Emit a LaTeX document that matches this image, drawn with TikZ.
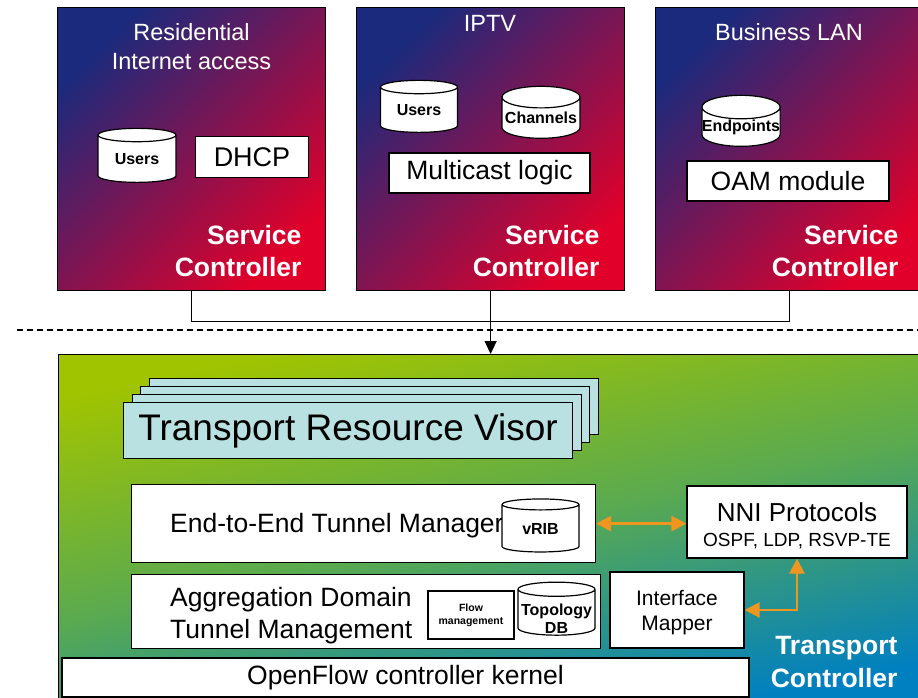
\documentclass[tikz,border=0pt]{standalone}
\usepackage{fontspec}
\setmainfont{Liberation Sans}
\usetikzlibrary{shapes.geometric, arrows.meta}
\definecolor{navy}{HTML}{1B2A7C}
\definecolor{crimson}{HTML}{E0002A}
\definecolor{lime}{HTML}{A0C400}
\definecolor{leaf}{HTML}{5AAA50}
\definecolor{ocean}{HTML}{0080C0}
\definecolor{visor}{HTML}{B9E1E1}
\definecolor{amber}{HTML}{F0961E}
\tikzstyle{service} = [rectangle, draw=black, line width=1.2pt, minimum width=268pt, minimum height=283pt, anchor=north west, top color=navy, bottom color=crimson, shading angle=45]
\tikzstyle{transport} = [rectangle, draw=black, line width=1.2pt, minimum width=870pt, minimum height=350pt, anchor=north west, top color=lime, bottom color=ocean, middle color=leaf, shading angle=12]
\tikzstyle{box} = [rectangle, draw=black, line width=1.2pt, fill=white, inner sep=0pt, align=center]
\tikzstyle{visorbox} = [rectangle, draw=black, line width=1.2pt, fill=visor, anchor=north west, minimum width=449pt, minimum height=56pt]
\tikzstyle{db} = [cylinder, shape border rotate=90, aspect=0.3, draw=black, line width=1.2pt, fill=white, inner sep=0pt, align=center, font=\bfseries\fontsize{16}{18}\selectfont]
\tikzstyle{title} = [text=white, font=\fontsize{23.5}{29}\selectfont, align=center]
\tikzstyle{ctrllabel} = [text=white, font=\bfseries\fontsize{26.5}{32.5}\selectfont, align=right, anchor=east]
\tikzstyle{arrow} = [line width=1.2pt, -{Triangle[width=12pt,length=13pt]}]
\tikzstyle{link} = [line width=2.5pt, draw=amber, {Triangle[width=15pt,length=15pt]}-{Triangle[width=15pt,length=15pt]}]

\begin{document}
\begin{tikzpicture}[x=1pt, y=-1pt]
  \useasboundingbox (0,0) rectangle (918,698);

  % service controllers
  \node (sc1) [service] at (57,7) {};
  \node (sc2) [service] at (356,7) {};
  \node (sc3) [service] at (655,7) {};

  \node (t1) [title] at (191.5,47) {Residential\\Internet access};
  \node (t2) [title] at (490,23) {IPTV};
  \node (t3) [title] at (789,32) {Business LAN};
  \node (c1) [ctrllabel] at (305,251) {Service\\Controller};
  \node (c2) [ctrllabel] at (603,251) {Service\\Controller};
  \node (c3) [ctrllabel] at (902,251) {Service\\Controller};

  \node (users1) [db, minimum width=78pt, minimum height=54pt] at (137,159) {Users};
  \node (dhcp) [box, minimum width=113pt, minimum height=41pt, font=\fontsize{27}{30}\selectfont] at (252,157) {DHCP};
  \node (users2) [db, minimum width=77pt, minimum height=52pt] at (419,110) {Users};
  \node (channels) [db, minimum width=78pt, minimum height=52pt] at (541,118) {Channels};
  \node (mcast) [box, minimum width=201pt, minimum height=40pt, font=\fontsize{26.5}{30}\selectfont] at (489.5,173) {Multicast logic};
  \node (endpoints) [db, minimum width=77pt, minimum height=51pt] at (741,127) {Endpoints};
  \node (oam) [box, minimum width=202pt, minimum height=40pt, font=\fontsize{26.5}{30}\selectfont] at (788,181) {OAM module};

  % transport controller
  \node (tc) [transport] at (58,354) {};
  \node (c4) [ctrllabel] at (901,662) {Transport\\Controller};

  \foreach \i in {3,2,1}
    \node [visorbox] at ({123+8.5*\i},{402-8*\i}) {};
  \node (trv) [visorbox, font=\fontsize{37}{42}\selectfont] at (123,402) {Transport Resource Visor};

  \node (e2e) [box, anchor=north west, minimum width=464pt, minimum height=78pt] at (131,484) {};
  \node (e2etext) [anchor=west, inner sep=0pt, font=\fontsize{26.5}{30}\selectfont] at ([xshift=39pt, yshift=-2pt]e2e.west) {End-to-End Tunnel Manager};
  \node (vrib) [db, minimum width=77pt, minimum height=53pt] at (540.5,528.5) {vRIB};

  \node (nni) [box, minimum width=220pt, minimum height=72pt] at (797,522) {};
  \node (nnitext) [font=\fontsize{26}{30}\selectfont] at (797,512) {NNI Protocols};
  \node (nnisub) [font=\fontsize{19}{22}\selectfont] at (797,541) {OSPF, LDP, RSVP-TE};

  \node (agg) [box, anchor=north west, minimum width=469pt, minimum height=74pt] at (131,574) {};
  \node (aggtext) [anchor=west, inner sep=0pt, align=left, font=\fontsize{26.5}{32}\selectfont] at ([xshift=39pt, yshift=-4pt]agg.west) {Aggregation Domain\\Tunnel Management};
  \node (flow) [box, minimum width=86pt, minimum height=48pt, font=\bfseries\fontsize{10.5}{13}\selectfont] at (471,615) {Flow\\management};
  \node (topo) [db, aspect=0.2, minimum width=77pt, minimum height=53pt] at (556.5,612.5) {\phantom{Topology}};
  \node (topotext) [align=center, inner sep=0pt, font=\bfseries\fontsize{16}{18}\selectfont] at (556.5,619) {Topology\\DB};

  \node (mapper) [box, minimum width=134pt, minimum height=76pt] at (677,610) {};
  \node (mappertext) [align=center, inner sep=0pt, font=\fontsize{21}{25}\selectfont] at (677,613) {Interface\\Mapper};
  \node (kernel) [box, minimum width=687pt, minimum height=39pt, font=\fontsize{26.5}{30}\selectfont] at (405.5,677.5) {OpenFlow controller kernel};

  % connectors
  \coordinate (bus) at (490,321.5);
  \coordinate (dashL) at (17,330);
  \coordinate (dashR) at (918,330);
  \draw [line width=1.2pt, dash pattern=on 6pt off 4pt] (dashL) -- (dashR);
  \draw [line width=1.2pt] (sc1.south) |- (bus) -| (sc3.south);
  \draw [arrow] (sc2.south) -- (sc2.south |- tc.north);
  \draw [link] (e2e.east) -- (e2e.east -| nni.west);
  \draw [link] (mapper.east) -| (nni.south);
\end{tikzpicture}
\end{document}
